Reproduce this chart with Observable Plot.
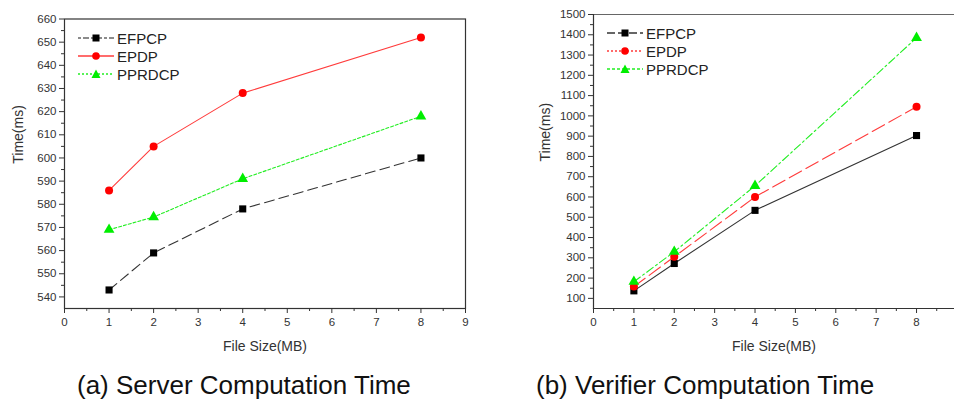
<!DOCTYPE html>
<html>
<head>
<meta charset="utf-8">
<script src="https://cdn.jsdelivr.net/npm/d3@7"></script>
<script src="https://cdn.jsdelivr.net/npm/@observablehq/plot@0.6"></script>
<style>
  html, body { margin: 0; padding: 0; background: #fff; }
  #wrap { position: relative; width: 954px; height: 406px; overflow: hidden; font-family: "Liberation Sans", Arial, sans-serif; }
  .panel { position: absolute; top: 0; }
  .caption { position: absolute; font-size: 26px; color: #111; white-space: nowrap; line-height: 1; }
  .legend { position: absolute; font-size: 15px; color: #222; }
  .legend .row { display: flex; align-items: center; height: 18px; }
  .legend svg { margin-right: 3px; }
</style>
</head>
<body>
<div id="wrap"></div>
<script>
// ---------- data ----------
const fileSizes = [1, 2, 4, 8];
const seriesNames = ["EFPCP", "EPDP", "PPRDCP"];

// (a) Server computation time (ms)
const serverEFPCP  = [543, 559, 578, 600];
const serverEPDP   = [586, 605, 628, 652];
const serverPPRDCP = [569, 574.5, 591, 618];

// (b) Verifier computation time (ms)
const verifierEFPCP  = [137, 272, 534, 903];
const verifierEPDP   = [158, 305, 600, 1045];
const verifierPPRDCP = [182, 330, 655, 1385];

const xTicks = [0, 1, 2, 3, 4, 5, 6, 7, 8, 9];
const serverYTicks = [540, 550, 560, 570, 580, 590, 600, 610, 620, 630, 640, 650, 660];
const verifierYTicks = [100, 200, 300, 400, 500, 600, 700, 800, 900, 1000, 1100, 1200, 1300, 1400, 1500];

const xLabel = "File Size(MB)";
const yLabel = "Time(ms)";
const captions = ["(a) Server Computation Time", "(b) Verifier Computation Time"];

// ---------- helpers ----------
function rows(name, values) {
  return fileSizes.map((x, i) => ({series: name, x, y: values[i]}));
}
const half = ticks => ticks.slice(0, -1).map((t, i) => (t + ticks[i + 1]) / 2);

const styles = {
  EFPCP:  {color: "#000000", line: "#333333", symbol: "square", r: 4},
  EPDP:   {color: "#ff0000", line: "#ff3b3b", symbol: "circle", r: 4},
  PPRDCP: {color: "#00ee00", line: "#22ee22", symbol: "triangle", r: 4}
};

function panel({data, dashes, yDomain, yTicks, xDomain, width, marginLeft, marginRight, marginTop, labelOffsetY, fullFrame}) {
  const marks = [];
  if (fullFrame) {
    marks.push(Plot.frame({stroke: "#333", strokeWidth: 1.2}));
  } else {
    marks.push(Plot.frame({anchor: "top", stroke: "#666", strokeWidth: 1.2}));
    marks.push(Plot.frame({anchor: "left", stroke: "#333", strokeWidth: 1.2}));
    marks.push(Plot.frame({anchor: "bottom", stroke: "#333", strokeWidth: 1.2}));
  }
  marks.push(
    Plot.axisX(xTicks.filter(t => t <= xDomain[1]), {tickSize: 5, tickPadding: 4, fontSize: 11.5, color: "#333",
      tickFormat: d3.format("d"), label: null}),
    Plot.axisX(half(xTicks).filter(t => t <= xDomain[1]), {tickSize: 3, tickFormat: () => "", label: null, color: "#333"}),
    Plot.axisY(yTicks, {tickSize: 5, tickPadding: 3, fontSize: 11.5, color: "#333",
      tickFormat: d3.format("d"), label: null}),
    Plot.axisY(half(yTicks), {tickSize: 3, tickFormat: () => "", label: null, color: "#333"}),
    Plot.text([xLabel], {text: d => d, frameAnchor: "bottom", dy: 38, fontSize: 14, fill: "#333", lineAnchor: "middle"}),
    Plot.text([yLabel], {text: d => d, frameAnchor: "left", dx: -labelOffsetY, rotate: -90, fontSize: 14, fill: "#333", lineAnchor: "middle"})
  );
  seriesNames.forEach((name, i) => {
    const s = styles[name];
    marks.push(Plot.line(data[i], {x: "x", y: "y", stroke: s.line, strokeWidth: 1.1, strokeDasharray: dashes[name]}));
  });
  seriesNames.forEach((name, i) => {
    const s = styles[name];
    marks.push(Plot.dot(data[i], {x: "x", y: "y", symbol: s.symbol, r: s.r, fill: s.color, stroke: "none"}));
  });
  return Plot.plot({
    width, height: 360,
    marginLeft, marginRight, marginTop, marginBottom: 52,
    style: {fontFamily: "'Liberation Sans', Arial, sans-serif", fontSize: "14px", color: "#333", background: "transparent"},
    x: {domain: xDomain},
    y: {domain: yDomain},
    marks
  });
}

const wrap = document.getElementById("wrap");

// ---------- panel (a) ----------
const left = panel({
  data: [rows("EFPCP", serverEFPCP), rows("EPDP", serverEPDP), rows("PPRDCP", serverPPRDCP)],
  dashes: {EFPCP: "10,5", EPDP: null, PPRDCP: "3,2"},
  yDomain: [535, 660], yTicks: serverYTicks, xDomain: [0, 9],
  width: 477, marginLeft: 64, marginRight: 12, marginTop: 18.5, labelOffsetY: 46, fullFrame: true
});
left.classList.add("panel");
left.style.left = "0px";
wrap.appendChild(left);

// ---------- panel (b) ----------
const right = panel({
  data: [rows("EFPCP", verifierEFPCP), rows("EPDP", verifierEPDP), rows("PPRDCP", verifierPPRDCP)],
  dashes: {EFPCP: null, EPDP: "14,5", PPRDCP: "8,3,2,3"},
  yDomain: [50, 1500], yTicks: verifierYTicks, xDomain: [0, 8.94],
  width: 477, marginLeft: 116, marginRight: 0, marginTop: 14, labelOffsetY: 48, fullFrame: false
});
right.classList.add("panel");
right.style.left = "477px";
wrap.appendChild(right);

// ---------- legends ----------
function legend(x, y, swatchDashes) {
  const div = document.createElement("div");
  div.className = "legend";
  div.style.left = x + "px";
  div.style.top = y + "px";
  seriesNames.forEach(name => {
    const s = styles[name];
    const row = document.createElement("div");
    row.className = "row";
    const ns = "http://www.w3.org/2000/svg";
    const svg = document.createElementNS(ns, "svg");
    svg.setAttribute("width", 36); svg.setAttribute("height", 12);
    const line = document.createElementNS(ns, "line");
    line.setAttribute("x1", 0); line.setAttribute("x2", 36);
    line.setAttribute("y1", 6); line.setAttribute("y2", 6);
    line.setAttribute("stroke", name === "EFPCP" ? "#666" : s.line);
    line.setAttribute("stroke-width", name === "EFPCP" && swatchDashes[name] === "8,3" ? 2 : 1.3);
    if (swatchDashes[name]) line.setAttribute("stroke-dasharray", swatchDashes[name]);
    svg.appendChild(line);
    let m;
    if (s.symbol === "square") {
      m = document.createElementNS(ns, "rect");
      m.setAttribute("x", 14.5); m.setAttribute("y", 2.5); m.setAttribute("width", 7); m.setAttribute("height", 7);
    } else if (s.symbol === "circle") {
      m = document.createElementNS(ns, "circle");
      m.setAttribute("cx", 18); m.setAttribute("cy", 6); m.setAttribute("r", 3.8);
    } else {
      m = document.createElementNS(ns, "polygon");
      m.setAttribute("points", "18,1.5 22.5,10 13.5,10");
    }
    m.setAttribute("fill", s.color);
    svg.appendChild(m);
    row.appendChild(svg);
    const t = document.createElement("span");
    t.textContent = name;
    row.appendChild(t);
    div.appendChild(row);
  });
  wrap.appendChild(div);
}
legend(78, 29, {EFPCP: "3,2,6,2", EPDP: null, PPRDCP: "2,2"});
legend(607, 24, {EFPCP: "8,3", EPDP: "2,2", PPRDCP: "3,2"});

// ---------- captions ----------
[[77, captions[0]], [536, captions[1]]].forEach(([x, text]) => {
  const c = document.createElement("div");
  c.className = "caption";
  c.style.left = x + "px";
  c.style.top = "372px";
  c.textContent = text;
  wrap.appendChild(c);
});
</script>
</body>
</html>
